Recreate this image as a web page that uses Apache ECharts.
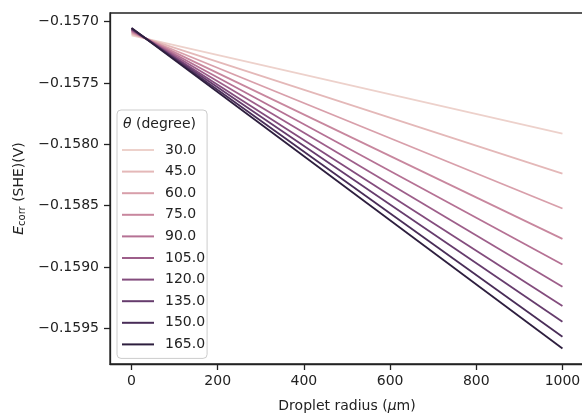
<!DOCTYPE html>
<html>
<head>
<meta charset="utf-8">
<script src="https://cdn.jsdelivr.net/npm/echarts@6/dist/echarts.min.js"></script>
<style>
  html, body { margin: 0; padding: 0; background: #fff; }
  #chart { width: 582px; height: 416px; }
</style>
</head>
<body>
<div id="chart"></div>
<script>
// contact angle (degree) -> corrosion potential vs droplet radius
var radius = [0, 1000];
var angles = ['30.0', '45.0', '60.0', '75.0', '90.0', '105.0', '120.0', '135.0', '150.0', '165.0'];
var e30 = [-0.157112, -0.157912];
var e45 = [-0.157100, -0.158238];
var e60 = [-0.157091, -0.158523];
var e75 = [-0.157082, -0.158770];
var e90 = [-0.157075, -0.158979];
var e105 = [-0.157069, -0.159161];
var e120 = [-0.157064, -0.159318];
var e135 = [-0.157059, -0.159446];
var e150 = [-0.157055, -0.159568];
var e165 = [-0.157052, -0.159663];
var xTicks = [0, 200, 400, 600, 800, 1000];
var yTicks = [-0.1570, -0.1575, -0.1580, -0.1585, -0.1590, -0.1595];

// seaborn default cubehelix, light -> dark
var colors = ['#edd1cb', '#e4b8b8', '#d89faa', '#c8879e', '#b57194',
              '#9d5e8a', '#834c7d', '#663c6d', '#492d58', '#2d1e3e'];
var values = [e30, e45, e60, e75, e90, e105, e120, e135, e150, e165];

var ink = '#222222';
var font = 'DejaVu Sans';

var series = angles.map(function (name, i) {
  return {
    name: name,
    type: 'line',
    symbol: 'none',
    data: radius.map(function (r, j) { return [r, values[i][j]]; }),
    lineStyle: { color: colors[i], width: 1.8 },
    itemStyle: { color: colors[i] },
    emphasis: { disabled: true },
    z: 2 + i
  };
});

var myChart = echarts.init(document.getElementById('chart'), null, { renderer: 'canvas' });
myChart.setOption({
  animation: false,
  backgroundColor: '#fff',
  textStyle: { fontFamily: font, color: ink },
  grid: {
    left: 110, top: 13, width: 474, height: 351,
    outerBoundsMode: 'none', containLabel: false,
    show: true, borderColor: ink, borderWidth: 1.3, backgroundColor: 'transparent'
  },
  xAxis: {
    type: 'value', min: -50, max: 1050,
    name: 'Droplet radius ({mu|μ}m)', nameLocation: 'middle', nameGap: 35,
    nameTextStyle: { fontSize: 14, color: ink, fontFamily: font,
      rich: { mu: { fontStyle: 'italic', fontSize: 14, color: ink, fontFamily: font } } },
    axisLine: { onZero: false, lineStyle: { color: ink, width: 1.3 } },
    axisTick: { show: true, length: 6, lineStyle: { color: ink, width: 1.3 }, customValues: xTicks },
    axisLabel: { fontSize: 14, color: ink, fontFamily: font, margin: 10, customValues: xTicks,
      formatter: function (v) { return String(v); } },
    splitLine: { show: false }
  },
  yAxis: {
    type: 'value', min: -0.15979, max: -0.15693,
    name: '{e|E}{sub|corr} (SHE)(V)', nameLocation: 'middle', nameGap: 83, nameRotate: 90,
    nameTextStyle: { fontSize: 14, color: ink, fontFamily: font,
      rich: {
        e: { fontStyle: 'italic', fontSize: 14, color: ink, fontFamily: font },
        sub: { fontSize: 10, color: ink, fontFamily: font, verticalAlign: 'bottom', padding: [6, 0, 0, 0] }
      } },
    axisLine: { show: true, onZero: false, lineStyle: { color: ink, width: 1.3 } },
    axisTick: { show: true, length: 6, lineStyle: { color: ink, width: 1.3 }, customValues: yTicks },
    axisLabel: {
      fontSize: 14, color: ink, fontFamily: font, margin: 11, customValues: yTicks,
      formatter: function (v) { return v.toFixed(4).replace('-', '\u2212'); }
    },
    splitLine: { show: false }
  },
  legend: {
    orient: 'vertical', left: 117, top: 110,
    padding: [33, 2, 7, 4],
    itemWidth: 32, itemHeight: 14, itemGap: 7.6,
    itemStyle: { opacity: 0 },
    backgroundColor: 'rgba(255,255,255,0.8)', borderColor: '#cccccc', borderWidth: 1, borderRadius: 4,
    textStyle: { fontSize: 14, color: ink, fontFamily: font, padding: [0, 0, 0, 6] },
    data: angles
  },
  graphic: [{
    type: 'text', left: 123, top: 117, z: 100,
    style: { text: '{t|θ} (degree)', fontSize: 14, fill: ink, fontFamily: font,
      rich: { t: { fontStyle: 'italic', fontSize: 14, fill: ink, fontFamily: font } } }
  }],
  series: series
});
</script>
</body>
</html>
